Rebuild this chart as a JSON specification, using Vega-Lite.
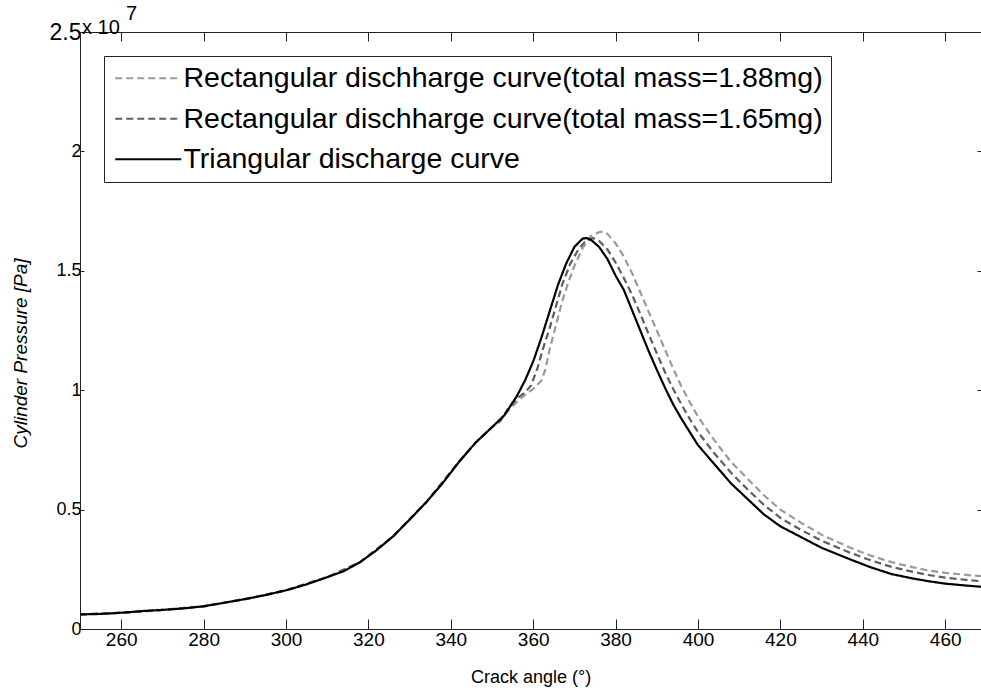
{
  "$schema": "https://vega.github.io/schema/vega-lite/v6.json",
  "width": 901,
  "height": 597,
  "autosize": {"type": "none"},
  "padding": {"left": 80, "top": 32, "right": 0, "bottom": 64},
  "background": "white",
  "config": {
    "font": "Liberation Sans",
    "view": {"stroke": "#222222", "strokeWidth": 1},
    "axis": {"domainColor": "#222222", "tickColor": "#222222", "labelColor": "black", "titleColor": "black", "grid": false, "labelFont": "Liberation Sans", "titleFont": "Liberation Sans", "labelFontSize": 18, "titleFontSize": 18, "titleFontWeight": "normal"}
  },
  "datasets": {
    "curves": [
      {"angle": 250, "p": 610000, "series": "Rectangular dischharge curve(total mass=1.88mg)"},
      {"angle": 260, "p": 680000, "series": "Rectangular dischharge curve(total mass=1.88mg)"},
      {"angle": 270, "p": 800000, "series": "Rectangular dischharge curve(total mass=1.88mg)"},
      {"angle": 280, "p": 950000, "series": "Rectangular dischharge curve(total mass=1.88mg)"},
      {"angle": 290, "p": 1250000, "series": "Rectangular dischharge curve(total mass=1.88mg)"},
      {"angle": 300, "p": 1620000, "series": "Rectangular dischharge curve(total mass=1.88mg)"},
      {"angle": 310, "p": 2170000, "series": "Rectangular dischharge curve(total mass=1.88mg)"},
      {"angle": 318, "p": 2800000, "series": "Rectangular dischharge curve(total mass=1.88mg)"},
      {"angle": 326, "p": 3880000, "series": "Rectangular dischharge curve(total mass=1.88mg)"},
      {"angle": 334, "p": 5300000, "series": "Rectangular dischharge curve(total mass=1.88mg)"},
      {"angle": 342, "p": 7000000, "series": "Rectangular dischharge curve(total mass=1.88mg)"},
      {"angle": 346, "p": 7800000, "series": "Rectangular dischharge curve(total mass=1.88mg)"},
      {"angle": 350, "p": 8450000, "series": "Rectangular dischharge curve(total mass=1.88mg)"},
      {"angle": 352, "p": 8750000, "series": "Rectangular dischharge curve(total mass=1.88mg)"},
      {"angle": 354, "p": 9150000, "series": "Rectangular dischharge curve(total mass=1.88mg)"},
      {"angle": 356, "p": 9500000, "series": "Rectangular dischharge curve(total mass=1.88mg)"},
      {"angle": 358, "p": 9800000, "series": "Rectangular dischharge curve(total mass=1.88mg)"},
      {"angle": 360, "p": 10050000, "series": "Rectangular dischharge curve(total mass=1.88mg)"},
      {"angle": 362, "p": 10400000, "series": "Rectangular dischharge curve(total mass=1.88mg)"},
      {"angle": 363, "p": 10900000, "series": "Rectangular dischharge curve(total mass=1.88mg)"},
      {"angle": 364, "p": 11700000, "series": "Rectangular dischharge curve(total mass=1.88mg)"},
      {"angle": 365.5, "p": 12700000, "series": "Rectangular dischharge curve(total mass=1.88mg)"},
      {"angle": 367, "p": 13700000, "series": "Rectangular dischharge curve(total mass=1.88mg)"},
      {"angle": 368.5, "p": 14500000, "series": "Rectangular dischharge curve(total mass=1.88mg)"},
      {"angle": 370, "p": 15200000, "series": "Rectangular dischharge curve(total mass=1.88mg)"},
      {"angle": 372, "p": 15950000, "series": "Rectangular dischharge curve(total mass=1.88mg)"},
      {"angle": 374, "p": 16450000, "series": "Rectangular dischharge curve(total mass=1.88mg)"},
      {"angle": 376, "p": 16620000, "series": "Rectangular dischharge curve(total mass=1.88mg)"},
      {"angle": 377, "p": 16640000, "series": "Rectangular dischharge curve(total mass=1.88mg)"},
      {"angle": 378, "p": 16550000, "series": "Rectangular dischharge curve(total mass=1.88mg)"},
      {"angle": 380, "p": 16150000, "series": "Rectangular dischharge curve(total mass=1.88mg)"},
      {"angle": 382, "p": 15600000, "series": "Rectangular dischharge curve(total mass=1.88mg)"},
      {"angle": 384, "p": 14900000, "series": "Rectangular dischharge curve(total mass=1.88mg)"},
      {"angle": 386, "p": 14100000, "series": "Rectangular dischharge curve(total mass=1.88mg)"},
      {"angle": 388, "p": 13300000, "series": "Rectangular dischharge curve(total mass=1.88mg)"},
      {"angle": 390, "p": 12500000, "series": "Rectangular dischharge curve(total mass=1.88mg)"},
      {"angle": 392, "p": 11700000, "series": "Rectangular dischharge curve(total mass=1.88mg)"},
      {"angle": 394, "p": 10900000, "series": "Rectangular dischharge curve(total mass=1.88mg)"},
      {"angle": 396, "p": 10150000, "series": "Rectangular dischharge curve(total mass=1.88mg)"},
      {"angle": 398, "p": 9500000, "series": "Rectangular dischharge curve(total mass=1.88mg)"},
      {"angle": 400, "p": 8900000, "series": "Rectangular dischharge curve(total mass=1.88mg)"},
      {"angle": 404, "p": 7900000, "series": "Rectangular dischharge curve(total mass=1.88mg)"},
      {"angle": 408, "p": 7000000, "series": "Rectangular dischharge curve(total mass=1.88mg)"},
      {"angle": 412, "p": 6300000, "series": "Rectangular dischharge curve(total mass=1.88mg)"},
      {"angle": 416, "p": 5600000, "series": "Rectangular dischharge curve(total mass=1.88mg)"},
      {"angle": 420, "p": 5000000, "series": "Rectangular dischharge curve(total mass=1.88mg)"},
      {"angle": 425, "p": 4450000, "series": "Rectangular dischharge curve(total mass=1.88mg)"},
      {"angle": 430, "p": 3950000, "series": "Rectangular dischharge curve(total mass=1.88mg)"},
      {"angle": 437, "p": 3400000, "series": "Rectangular dischharge curve(total mass=1.88mg)"},
      {"angle": 442, "p": 3070000, "series": "Rectangular dischharge curve(total mass=1.88mg)"},
      {"angle": 447, "p": 2800000, "series": "Rectangular dischharge curve(total mass=1.88mg)"},
      {"angle": 452, "p": 2590000, "series": "Rectangular dischharge curve(total mass=1.88mg)"},
      {"angle": 456, "p": 2450000, "series": "Rectangular dischharge curve(total mass=1.88mg)"},
      {"angle": 460, "p": 2350000, "series": "Rectangular dischharge curve(total mass=1.88mg)"},
      {"angle": 465, "p": 2270000, "series": "Rectangular dischharge curve(total mass=1.88mg)"},
      {"angle": 468.7, "p": 2210000, "series": "Rectangular dischharge curve(total mass=1.88mg)"},

      {"angle": 250, "p": 610000, "series": "Rectangular dischharge curve(total mass=1.65mg)"},
      {"angle": 260, "p": 680000, "series": "Rectangular dischharge curve(total mass=1.65mg)"},
      {"angle": 270, "p": 800000, "series": "Rectangular dischharge curve(total mass=1.65mg)"},
      {"angle": 280, "p": 950000, "series": "Rectangular dischharge curve(total mass=1.65mg)"},
      {"angle": 290, "p": 1250000, "series": "Rectangular dischharge curve(total mass=1.65mg)"},
      {"angle": 300, "p": 1620000, "series": "Rectangular dischharge curve(total mass=1.65mg)"},
      {"angle": 310, "p": 2170000, "series": "Rectangular dischharge curve(total mass=1.65mg)"},
      {"angle": 318, "p": 2800000, "series": "Rectangular dischharge curve(total mass=1.65mg)"},
      {"angle": 326, "p": 3880000, "series": "Rectangular dischharge curve(total mass=1.65mg)"},
      {"angle": 334, "p": 5300000, "series": "Rectangular dischharge curve(total mass=1.65mg)"},
      {"angle": 342, "p": 7000000, "series": "Rectangular dischharge curve(total mass=1.65mg)"},
      {"angle": 346, "p": 7800000, "series": "Rectangular dischharge curve(total mass=1.65mg)"},
      {"angle": 350, "p": 8450000, "series": "Rectangular dischharge curve(total mass=1.65mg)"},
      {"angle": 352, "p": 8700000, "series": "Rectangular dischharge curve(total mass=1.65mg)"},
      {"angle": 354, "p": 9250000, "series": "Rectangular dischharge curve(total mass=1.65mg)"},
      {"angle": 356, "p": 9650000, "series": "Rectangular dischharge curve(total mass=1.65mg)"},
      {"angle": 358, "p": 9900000, "series": "Rectangular dischharge curve(total mass=1.65mg)"},
      {"angle": 359.5, "p": 10200000, "series": "Rectangular dischharge curve(total mass=1.65mg)"},
      {"angle": 361, "p": 10900000, "series": "Rectangular dischharge curve(total mass=1.65mg)"},
      {"angle": 362.5, "p": 11800000, "series": "Rectangular dischharge curve(total mass=1.65mg)"},
      {"angle": 364, "p": 12600000, "series": "Rectangular dischharge curve(total mass=1.65mg)"},
      {"angle": 365.5, "p": 13500000, "series": "Rectangular dischharge curve(total mass=1.65mg)"},
      {"angle": 367, "p": 14400000, "series": "Rectangular dischharge curve(total mass=1.65mg)"},
      {"angle": 369, "p": 15300000, "series": "Rectangular dischharge curve(total mass=1.65mg)"},
      {"angle": 371, "p": 15900000, "series": "Rectangular dischharge curve(total mass=1.65mg)"},
      {"angle": 372.5, "p": 16200000, "series": "Rectangular dischharge curve(total mass=1.65mg)"},
      {"angle": 374.5, "p": 16370000, "series": "Rectangular dischharge curve(total mass=1.65mg)"},
      {"angle": 376, "p": 16250000, "series": "Rectangular dischharge curve(total mass=1.65mg)"},
      {"angle": 378, "p": 15900000, "series": "Rectangular dischharge curve(total mass=1.65mg)"},
      {"angle": 380, "p": 15350000, "series": "Rectangular dischharge curve(total mass=1.65mg)"},
      {"angle": 382, "p": 14700000, "series": "Rectangular dischharge curve(total mass=1.65mg)"},
      {"angle": 384, "p": 14000000, "series": "Rectangular dischharge curve(total mass=1.65mg)"},
      {"angle": 386, "p": 13200000, "series": "Rectangular dischharge curve(total mass=1.65mg)"},
      {"angle": 388, "p": 12350000, "series": "Rectangular dischharge curve(total mass=1.65mg)"},
      {"angle": 390, "p": 11550000, "series": "Rectangular dischharge curve(total mass=1.65mg)"},
      {"angle": 392, "p": 10750000, "series": "Rectangular dischharge curve(total mass=1.65mg)"},
      {"angle": 394, "p": 10050000, "series": "Rectangular dischharge curve(total mass=1.65mg)"},
      {"angle": 396, "p": 9400000, "series": "Rectangular dischharge curve(total mass=1.65mg)"},
      {"angle": 398, "p": 8800000, "series": "Rectangular dischharge curve(total mass=1.65mg)"},
      {"angle": 400, "p": 8250000, "series": "Rectangular dischharge curve(total mass=1.65mg)"},
      {"angle": 404, "p": 7350000, "series": "Rectangular dischharge curve(total mass=1.65mg)"},
      {"angle": 408, "p": 6550000, "series": "Rectangular dischharge curve(total mass=1.65mg)"},
      {"angle": 412, "p": 5850000, "series": "Rectangular dischharge curve(total mass=1.65mg)"},
      {"angle": 416, "p": 5200000, "series": "Rectangular dischharge curve(total mass=1.65mg)"},
      {"angle": 420, "p": 4650000, "series": "Rectangular dischharge curve(total mass=1.65mg)"},
      {"angle": 425, "p": 4150000, "series": "Rectangular dischharge curve(total mass=1.65mg)"},
      {"angle": 430, "p": 3700000, "series": "Rectangular dischharge curve(total mass=1.65mg)"},
      {"angle": 437, "p": 3190000, "series": "Rectangular dischharge curve(total mass=1.65mg)"},
      {"angle": 442, "p": 2870000, "series": "Rectangular dischharge curve(total mass=1.65mg)"},
      {"angle": 447, "p": 2600000, "series": "Rectangular dischharge curve(total mass=1.65mg)"},
      {"angle": 452, "p": 2400000, "series": "Rectangular dischharge curve(total mass=1.65mg)"},
      {"angle": 456, "p": 2260000, "series": "Rectangular dischharge curve(total mass=1.65mg)"},
      {"angle": 460, "p": 2150000, "series": "Rectangular dischharge curve(total mass=1.65mg)"},
      {"angle": 465, "p": 2060000, "series": "Rectangular dischharge curve(total mass=1.65mg)"},
      {"angle": 468.7, "p": 2000000, "series": "Rectangular dischharge curve(total mass=1.65mg)"},

      {"angle": 250, "p": 610000, "series": "Triangular discharge curve"},
      {"angle": 255, "p": 630000, "series": "Triangular discharge curve"},
      {"angle": 260, "p": 680000, "series": "Triangular discharge curve"},
      {"angle": 265, "p": 750000, "series": "Triangular discharge curve"},
      {"angle": 270, "p": 800000, "series": "Triangular discharge curve"},
      {"angle": 275, "p": 860000, "series": "Triangular discharge curve"},
      {"angle": 280, "p": 950000, "series": "Triangular discharge curve"},
      {"angle": 285, "p": 1100000, "series": "Triangular discharge curve"},
      {"angle": 290, "p": 1250000, "series": "Triangular discharge curve"},
      {"angle": 295, "p": 1420000, "series": "Triangular discharge curve"},
      {"angle": 300, "p": 1620000, "series": "Triangular discharge curve"},
      {"angle": 305, "p": 1870000, "series": "Triangular discharge curve"},
      {"angle": 310, "p": 2170000, "series": "Triangular discharge curve"},
      {"angle": 314, "p": 2420000, "series": "Triangular discharge curve"},
      {"angle": 318, "p": 2800000, "series": "Triangular discharge curve"},
      {"angle": 322, "p": 3300000, "series": "Triangular discharge curve"},
      {"angle": 326, "p": 3880000, "series": "Triangular discharge curve"},
      {"angle": 330, "p": 4580000, "series": "Triangular discharge curve"},
      {"angle": 334, "p": 5300000, "series": "Triangular discharge curve"},
      {"angle": 338, "p": 6100000, "series": "Triangular discharge curve"},
      {"angle": 342, "p": 7000000, "series": "Triangular discharge curve"},
      {"angle": 346, "p": 7800000, "series": "Triangular discharge curve"},
      {"angle": 350, "p": 8450000, "series": "Triangular discharge curve"},
      {"angle": 353, "p": 8950000, "series": "Triangular discharge curve"},
      {"angle": 356, "p": 9740000, "series": "Triangular discharge curve"},
      {"angle": 358, "p": 10400000, "series": "Triangular discharge curve"},
      {"angle": 360, "p": 11200000, "series": "Triangular discharge curve"},
      {"angle": 362, "p": 12200000, "series": "Triangular discharge curve"},
      {"angle": 364, "p": 13300000, "series": "Triangular discharge curve"},
      {"angle": 366, "p": 14400000, "series": "Triangular discharge curve"},
      {"angle": 368, "p": 15300000, "series": "Triangular discharge curve"},
      {"angle": 370, "p": 16000000, "series": "Triangular discharge curve"},
      {"angle": 372, "p": 16350000, "series": "Triangular discharge curve"},
      {"angle": 373, "p": 16370000, "series": "Triangular discharge curve"},
      {"angle": 374, "p": 16300000, "series": "Triangular discharge curve"},
      {"angle": 376, "p": 16000000, "series": "Triangular discharge curve"},
      {"angle": 378, "p": 15500000, "series": "Triangular discharge curve"},
      {"angle": 380, "p": 14800000, "series": "Triangular discharge curve"},
      {"angle": 382, "p": 14200000, "series": "Triangular discharge curve"},
      {"angle": 384, "p": 13350000, "series": "Triangular discharge curve"},
      {"angle": 386, "p": 12500000, "series": "Triangular discharge curve"},
      {"angle": 388, "p": 11650000, "series": "Triangular discharge curve"},
      {"angle": 390, "p": 10860000, "series": "Triangular discharge curve"},
      {"angle": 392, "p": 10100000, "series": "Triangular discharge curve"},
      {"angle": 394, "p": 9400000, "series": "Triangular discharge curve"},
      {"angle": 396, "p": 8800000, "series": "Triangular discharge curve"},
      {"angle": 398, "p": 8250000, "series": "Triangular discharge curve"},
      {"angle": 400, "p": 7700000, "series": "Triangular discharge curve"},
      {"angle": 404, "p": 6900000, "series": "Triangular discharge curve"},
      {"angle": 408, "p": 6100000, "series": "Triangular discharge curve"},
      {"angle": 412, "p": 5450000, "series": "Triangular discharge curve"},
      {"angle": 416, "p": 4800000, "series": "Triangular discharge curve"},
      {"angle": 420, "p": 4300000, "series": "Triangular discharge curve"},
      {"angle": 425, "p": 3850000, "series": "Triangular discharge curve"},
      {"angle": 430, "p": 3400000, "series": "Triangular discharge curve"},
      {"angle": 437, "p": 2910000, "series": "Triangular discharge curve"},
      {"angle": 442, "p": 2580000, "series": "Triangular discharge curve"},
      {"angle": 447, "p": 2300000, "series": "Triangular discharge curve"},
      {"angle": 452, "p": 2120000, "series": "Triangular discharge curve"},
      {"angle": 456, "p": 2000000, "series": "Triangular discharge curve"},
      {"angle": 460, "p": 1900000, "series": "Triangular discharge curve"},
      {"angle": 465, "p": 1820000, "series": "Triangular discharge curve"},
      {"angle": 468.7, "p": 1770000, "series": "Triangular discharge curve"}
    ],
    "exponent": [
      {"angle": 250, "p": 25000000, "label": "x 10", "sup": "7"}
    ]
  },
  "layer": [
    {
      "data": {"name": "curves"},
      "mark": {"type": "line", "clip": true, "strokeCap": "butt"},
      "encoding": {
        "x": {
          "field": "angle", "type": "quantitative",
          "scale": {"domain": [250, 468.7], "nice": false, "zero": false},
          "axis": {
            "orient": "bottom",
            "values": [260, 280, 300, 320, 340, 360, 380, 400, 420, 440, 460],
            "tickSize": -10, "labelPadding": 11, "labelFontSize": 19,
            "title": "Crack angle (°)", "titleFontSize": 18, "titleFontWeight": "normal",
            "titleY": 48, "titleBaseline": "middle"
          }
        },
        "y": {
          "field": "p", "type": "quantitative",
          "scale": {"domain": [0, 25000000], "nice": false},
          "axis": {
            "orient": "left",
            "values": [0, 5000000, 10000000, 15000000, 20000000, 25000000],
            "labelExpr": "datum.value / 10000000 + ''",
            "tickSize": -4, "labelPadding": 3,
            "labelFontSize": {"condition": {"test": "datum.value == 25000000", "value": 23}, "value": 18},
            "title": "Cylinder Pressure [Pa]", "titleFontSize": 19, "titleFontWeight": "normal",
            "titleFontStyle": "italic", "titleX": -50, "titleY": 321, "titleAngle": -90,
            "titleBaseline": "bottom", "titleAlign": "center"
          }
        },
        "color": {
          "field": "series", "type": "nominal",
          "scale": {
            "domain": ["Rectangular dischharge curve(total mass=1.88mg)", "Rectangular dischharge curve(total mass=1.65mg)", "Triangular discharge curve"],
            "range": ["#9a9a9a", "#5e5e5e", "#000000"]
          },
          "legend": {
            "title": null, "orient": "none", "legendX": 24, "legendY": 24,
            "direction": "vertical",
            "symbolType": "M-3,0H3", "symbolSize": 484, "symbolStrokeWidth": 2, "symbolOffset": 22,
            "labelFontSize": 28.5, "labelFont": "Liberation Sans", "labelColor": "black",
            "labelOffset": 21, "rowPadding": 11.5, "padding": 8,
            "strokeColor": "#222222", "fillColor": "white", "labelLimit": 1000
          }
        },
        "strokeDash": {
          "field": "series", "type": "nominal",
          "scale": {
            "domain": ["Rectangular dischharge curve(total mass=1.88mg)", "Rectangular dischharge curve(total mass=1.65mg)", "Triangular discharge curve"],
            "range": [[7, 4], [7, 4], [1, 0]]
          },
          "legend": null
        },
        "strokeWidth": {
          "field": "series", "type": "nominal",
          "scale": {
            "domain": ["Rectangular dischharge curve(total mass=1.88mg)", "Rectangular dischharge curve(total mass=1.65mg)", "Triangular discharge curve"],
            "range": [2.2, 2.2, 2.6]
          },
          "legend": null
        }
      }
    },
    {
      "data": {"name": "exponent"},
      "mark": {"type": "text", "align": "left", "baseline": "alphabetic", "fontSize": 20, "font": "Liberation Sans", "dx": 2, "dy": 2, "color": "black"},
      "encoding": {
        "x": {"field": "angle", "type": "quantitative", "scale": {"domain": [250, 468.7], "nice": false, "zero": false}, "axis": null},
        "y": {"field": "p", "type": "quantitative", "scale": {"domain": [0, 25000000], "nice": false}, "axis": null},
        "text": {"field": "label"}
      }
    },
    {
      "data": {"name": "exponent"},
      "mark": {"type": "text", "align": "left", "baseline": "alphabetic", "fontSize": 20, "font": "Liberation Sans", "dx": 46, "dy": -12, "color": "black"},
      "encoding": {
        "x": {"field": "angle", "type": "quantitative", "scale": {"domain": [250, 468.7], "nice": false, "zero": false}, "axis": null},
        "y": {"field": "p", "type": "quantitative", "scale": {"domain": [0, 25000000], "nice": false}, "axis": null},
        "text": {"field": "sup"}
      }
    },
    {
      "data": {"name": "exponent"},
      "mark": {"type": "point", "opacity": 0},
      "encoding": {
        "x": {
          "field": "angle", "type": "quantitative",
          "scale": {"domain": [250, 468.7], "nice": false, "zero": false},
          "axis": {"orient": "top", "values": [260, 280, 300, 320, 340, 360, 380, 400, 420, 440, 460], "labels": false, "tickSize": -9, "title": null, "domain": false}
        },
        "y": {
          "field": "p", "type": "quantitative",
          "scale": {"domain": [0, 25000000], "nice": false},
          "axis": {"orient": "right", "values": [0, 5000000, 10000000, 15000000, 20000000, 25000000], "labels": false, "tickSize": -4, "title": null, "domain": false}
        }
      }
    }
  ],
  "resolve": {"scale": {"x": "independent", "y": "independent"}, "axis": {"x": "independent", "y": "independent"}}
}
